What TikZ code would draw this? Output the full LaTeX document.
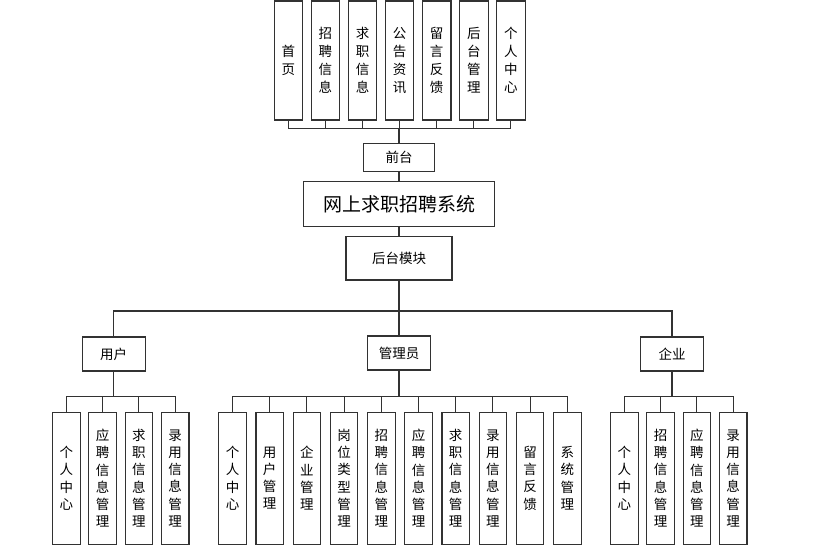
\documentclass[tikz,border=0pt]{standalone}
\usepackage{fontspec}
\usepackage{tikz}
\newfontfamily\cjk{Noto Sans CJK SC}
\definecolor{linegray}{RGB}{50,50,50}

\tikzset{
  box/.style={draw=linegray,line width=1.1pt,fill=white,inner sep=0pt,align=center,
    font=\cjk\fontsize{13.5}{18}\selectfont},
  topbox/.style={box,minimum width=28.5pt,minimum height=119pt},
  subbox/.style={box,minimum width=27.5pt,minimum height=131.7pt,font=\cjk\fontsize{13.5}{17.2}\selectfont},
  midbox/.style={box,minimum width=63pt,minimum height=34pt},
  link/.style={draw=linegray,line width=1.1pt}
}

\begin{document}
\begin{tikzpicture}[x=1pt,y=-1pt]
        \useasboundingbox[fill=white] (0,0) rectangle (816,557);

        % front part
        \node[topbox] (t1) at (288.3,60.5) {首\\页};
        \node[topbox] (t2) at (325.4,60.5) {招\\聘\\信\\息};
        \node[topbox] (t3) at (362.5,60.5) {求\\职\\信\\息};
        \node[topbox] (t4) at (399.6,60.5) {公\\告\\资\\讯};
        \node[topbox] (t5) at (436.7,60.5) {留\\言\\反\\馈};
        \node[topbox] (t6) at (473.8,60.5) {后\\台\\管\\理};
        \node[topbox] (t7) at (510.9,60.5) {个\\人\\中\\心};

        \node[box,minimum width=71.7pt,minimum height=28.4pt] (qt) at (399,157.5) {前台};
        \node[box,minimum width=191pt,minimum height=44.3pt,font=\cjk\fontsize{19}{22}\selectfont] (sys) at (399,204) {网上求职招聘系统};
        \node[box,minimum width=106pt,minimum height=43.3pt] (ht) at (399,258.3) {后台模块};

        % roles
        \node[midbox] (yh) at (113.7,354) {用户};
        \node[midbox] (gly) at (399,353) {管理员};
        \node[midbox] (qy) at (672,354) {企业};

        % user
        \node[subbox] (u1) at (66.3,478.2) {个\\人\\中\\心};
        \node[subbox] (u2) at (102.6,478.2) {应\\聘\\信\\息\\管\\理};
        \node[subbox] (u3) at (138.9,478.2) {求\\职\\信\\息\\管\\理};
        \node[subbox] (u4) at (175.2,478.2) {录\\用\\信\\息\\管\\理};

        % admin
        \node[subbox] (a1) at (232.5,478.2) {个\\人\\中\\心};
        \node[subbox] (a2) at (269.7,478.2) {用\\户\\管\\理};
        \node[subbox] (a3) at (306.9,478.2) {企\\业\\管\\理};
        \node[subbox] (a4) at (344.1,478.2) {岗\\位\\类\\型\\管\\理};
        \node[subbox] (a5) at (381.3,478.2) {招\\聘\\信\\息\\管\\理};
        \node[subbox] (a6) at (418.5,478.2) {应\\聘\\信\\息\\管\\理};
        \node[subbox] (a7) at (455.7,478.2) {求\\职\\信\\息\\管\\理};
        \node[subbox] (a8) at (492.9,478.2) {录\\用\\信\\息\\管\\理};
        \node[subbox] (a9) at (530.1,478.2) {留\\言\\反\\馈};
        \node[subbox] (a10) at (567.3,478.2) {系\\统\\管\\理};

        % company
        \node[subbox] (c1) at (624.3,478.2) {个\\人\\中\\心};
        \node[subbox] (c2) at (660.6,478.2) {招\\聘\\信\\息\\管\\理};
        \node[subbox] (c3) at (696.9,478.2) {应\\聘\\信\\息\\管\\理};
        \node[subbox] (c4) at (733.2,478.2) {录\\用\\信\\息\\管\\理};

        % links
        \path[link] (qt.north) -- ++(0,-14.3) -| (t1.south);
        \path[link] (qt.north) -- ++(0,-14.3) -| (t2.south);
        \path[link] (qt.north) -- ++(0,-14.3) -| (t3.south);
        \path[link] (qt.north) -- ++(0,-14.3) -| (t4.south);
        \path[link] (qt.north) -- ++(0,-14.3) -| (t5.south);
        \path[link] (qt.north) -- ++(0,-14.3) -| (t6.south);
        \path[link] (qt.north) -- ++(0,-14.3) -| (t7.south);
        \path[link] (qt.south) -- (sys.north);
        \path[link] (sys.south) -- (ht.north);

        \path[link] (ht.south) -- ++(0,30.5) -| (yh.north);
        \path[link] (ht.south) -- (gly.north);
        \path[link] (ht.south) -- ++(0,30.5) -| (qy.north);

        \path[link] (yh.south) -- ++(0,24.5) -| (u1.north);
        \path[link] (yh.south) -- ++(0,24.5) -| (u2.north);
        \path[link] (yh.south) -- ++(0,24.5) -| (u3.north);
        \path[link] (yh.south) -- ++(0,24.5) -| (u4.north);

        \path[link] (gly.south) -- ++(0,25.5) -| (a1.north);
        \path[link] (gly.south) -- ++(0,25.5) -| (a2.north);
        \path[link] (gly.south) -- ++(0,25.5) -| (a3.north);
        \path[link] (gly.south) -- ++(0,25.5) -| (a4.north);
        \path[link] (gly.south) -- ++(0,25.5) -| (a5.north);
        \path[link] (gly.south) -- ++(0,25.5) -| (a6.north);
        \path[link] (gly.south) -- ++(0,25.5) -| (a7.north);
        \path[link] (gly.south) -- ++(0,25.5) -| (a8.north);
        \path[link] (gly.south) -- ++(0,25.5) -| (a9.north);
        \path[link] (gly.south) -- ++(0,25.5) -| (a10.north);

        \path[link] (qy.south) -- ++(0,24.5) -| (c1.north);
        \path[link] (qy.south) -- ++(0,24.5) -| (c2.north);
        \path[link] (qy.south) -- ++(0,24.5) -| (c3.north);
        \path[link] (qy.south) -- ++(0,24.5) -| (c4.north);
\end{tikzpicture}
\end{document}
